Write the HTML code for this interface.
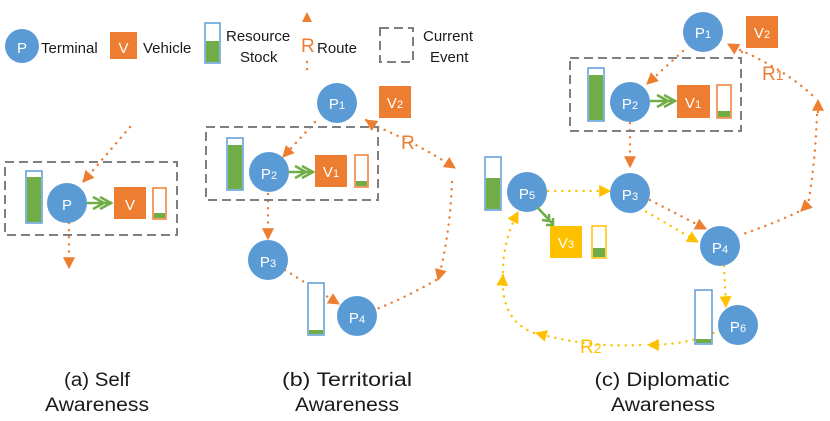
<!DOCTYPE html>
<html><head><meta charset="utf-8"><style>
html,body{margin:0;padding:0;background:#fff;}
svg{display:block;}
text{font-family:"Liberation Sans",sans-serif;}
</style></head><body>
<svg width="830" height="421" viewBox="0 0 830 421" xmlns="http://www.w3.org/2000/svg">
<defs>
<marker id="ao" viewBox="0 0 10 10" refX="9" refY="5" markerWidth="5" markerHeight="5" orient="auto" markerUnits="strokeWidth"><path d="M0,0 L10,5 L0,10 z" fill="#ed7d31"/></marker>
<marker id="ay" viewBox="0 0 10 10" refX="9" refY="5" markerWidth="5" markerHeight="5" orient="auto" markerUnits="strokeWidth"><path d="M0,0 L10,5 L0,10 z" fill="#ffc000"/></marker>
</defs>
<style>
.o{fill:none;stroke:#ed7d31;stroke-width:2.4;stroke-dasharray:0.1 7;stroke-linecap:round;}
.y{fill:none;stroke:#ffc000;stroke-width:2.4;stroke-dasharray:0.1 7;stroke-linecap:round;}
.dash{fill:none;stroke:#7f7f7f;stroke-width:2;stroke-dasharray:9 5;}
.c{fill:#5b9bd5;}
.ct{fill:#fff;font-size:15px;text-anchor:middle;}
.g{fill:none;stroke:#70ad47;stroke-width:2.5;}
.lab{font-size:15px;fill:#1a1a1a;}
.cap{font-size:19px;fill:#1a1a1a;text-anchor:middle;}
</style>

<!-- Legend -->
<circle class="c" cx="22" cy="46" r="17"/><text x="22" y="53" class="ct" font-size="20">P</text>
<text x="41" y="53" class="lab" font-size="16">Terminal</text>
<rect x="110" y="32" width="27" height="27" fill="#ed7d31"/><text x="123.5" y="53" class="ct" font-size="19">V</text>
<text x="143" y="53" class="lab" font-size="16">Vehicle</text>
<rect x="205" y="23" width="15" height="40" fill="#fff" stroke="#5b9bd5" stroke-width="1.5"/><rect x="206" y="41" width="13" height="21" fill="#70ad47"/>
<text x="226" y="41" class="lab">Resource</text><text x="240" y="62" class="lab">Stock</text>
<path d="M307,12 L302,22 L312,22 z" fill="#ed7d31"/>
<line x1="307" y1="62" x2="307" y2="73" class="o"/>
<text x="301" y="52" font-size="19" fill="#ed7d31">R</text>
<text x="317" y="53" class="lab" font-size="16">Route</text>
<rect x="380" y="28" width="33" height="34" class="dash" stroke-dasharray="8 5"/>
<text x="423" y="41" class="lab">Current</text><text x="430" y="62" class="lab">Event</text>

<!-- Panel a -->
<line x1="130" y1="127" x2="83" y2="182" class="o" marker-end="url(#ao)"/>
<line x1="69" y1="223" x2="69" y2="268" class="o" marker-end="url(#ao)"/>
<rect x="5" y="162" width="172" height="73" class="dash"/>
<rect x="26" y="171" width="16" height="52" fill="#fff" stroke="#5b9bd5" stroke-width="1.5"/><rect x="27" y="177" width="14" height="45" fill="#70ad47"/>
<circle class="c" cx="67" cy="203" r="20"/><text x="67" y="210" class="ct" font-size="20">P</text>
<path d="M87,203 H112 M100,197 L111,203 L100,209 M93,197 L104,203 L93,209" class="g"/>
<rect x="114" y="187" width="32" height="32" fill="#ed7d31"/><text x="130" y="210" class="ct" font-size="19">V</text>
<rect x="153" y="188" width="13" height="31" fill="#fff" stroke="#ed7d31" stroke-width="1.5"/><rect x="154" y="213" width="11" height="5" fill="#70ad47"/>

<!-- Panel b -->
<line x1="315" y1="122" x2="283" y2="157" class="o" marker-end="url(#ao)"/>
<line x1="378" y1="128" x2="366" y2="120" class="o" marker-end="url(#ao)"/>
<path d="M378,127 Q420,145 455,168" class="o" marker-end="url(#ao)"/>
<path d="M452,182 Q450,235 438,280" class="o" marker-end="url(#ao)"/>
<path d="M436,280 Q405,298 374,310" class="o"/>
<text x="401" y="149" font-size="19" fill="#ed7d31">R</text>
<line x1="268" y1="194" x2="268" y2="239" class="o" marker-end="url(#ao)"/>
<line x1="285" y1="270" x2="339" y2="304" class="o" marker-end="url(#ao)"/>
<rect x="206" y="127" width="172" height="73" class="dash"/>
<circle class="c" cx="337" cy="103" r="20"/><text x="337" y="109" class="ct">P<tspan font-size="11">1</tspan></text>
<rect x="379" y="86" width="32" height="32" fill="#ed7d31"/><text x="395" y="108" class="ct">V<tspan font-size="11">2</tspan></text>
<rect x="227" y="138" width="16" height="52" fill="#fff" stroke="#5b9bd5" stroke-width="1.5"/><rect x="228" y="145" width="14" height="44" fill="#70ad47"/>
<circle class="c" cx="269" cy="172" r="20"/><text x="269" y="179" class="ct">P<tspan font-size="11">2</tspan></text>
<path d="M289,172 H314 M302,166 L313,172 L302,178 M295,166 L306,172 L295,178" class="g"/>
<rect x="315" y="155" width="32" height="32" fill="#ed7d31"/><text x="331" y="177" class="ct">V<tspan font-size="11">1</tspan></text>
<rect x="355" y="155" width="13" height="32" fill="#fff" stroke="#ed7d31" stroke-width="1.5"/><rect x="356" y="181" width="11" height="5" fill="#70ad47"/>
<circle class="c" cx="268" cy="260" r="20"/><text x="268" y="267" class="ct">P<tspan font-size="11">3</tspan></text>
<rect x="308" y="283" width="16" height="52" fill="#fff" stroke="#5b9bd5" stroke-width="1.5"/><rect x="309" y="330" width="14" height="4" fill="#70ad47"/>
<circle class="c" cx="357" cy="316" r="20"/><text x="357" y="323" class="ct">P<tspan font-size="11">4</tspan></text>

<!-- Panel c -->
<line x1="683" y1="51" x2="647" y2="84" class="o" marker-end="url(#ao)"/>
<line x1="742" y1="52" x2="728" y2="44" class="o" marker-end="url(#ao)"/>
<path d="M740,50 Q785,70 812,95" class="o"/>
<path d="M818,112 L818,100" class="o" marker-end="url(#ao)"/>
<path d="M817,115 Q815,165 808,205" class="o"/>
<path d="M807,205 L801,211" class="o" marker-end="url(#ao)"/>
<path d="M798,212 Q770,225 740,235" class="o"/>
<text x="762" y="80" font-size="19" fill="#ed7d31">R<tspan font-size="14">1</tspan></text>
<line x1="630" y1="123" x2="630" y2="167" class="o" marker-end="url(#ao)"/>
<line x1="650" y1="200" x2="706" y2="229" class="o" marker-end="url(#ao)"/>
<line x1="640" y1="208" x2="698" y2="242" class="y" marker-end="url(#ay)"/>
<line x1="548" y1="191" x2="610" y2="191" class="y" marker-end="url(#ay)"/>
<line x1="724" y1="266" x2="726" y2="307" class="y" marker-end="url(#ay)"/>
<path d="M720,330 Q690,345 648,345" class="y" marker-end="url(#ay)"/>
<path d="M640,345 Q590,348 536,333" class="y" marker-end="url(#ay)"/>
<path d="M534,333 Q500,320 503,275" class="y" marker-end="url(#ay)"/>
<path d="M503,272 Q503,240 518,212" class="y" marker-end="url(#ay)"/>
<text x="580" y="353" font-size="19" fill="#ffc000">R<tspan font-size="14">2</tspan></text>
<rect x="570" y="58" width="171" height="73" class="dash"/>
<circle class="c" cx="703" cy="32" r="20"/><text x="703" y="38" class="ct">P<tspan font-size="11">1</tspan></text>
<rect x="746" y="16" width="32" height="32" fill="#ed7d31"/><text x="762" y="38" class="ct">V<tspan font-size="11">2</tspan></text>
<rect x="588" y="68" width="16" height="53" fill="#fff" stroke="#5b9bd5" stroke-width="1.5"/><rect x="589" y="75" width="14" height="45" fill="#70ad47"/>
<circle class="c" cx="630" cy="102" r="20"/><text x="630" y="109" class="ct">P<tspan font-size="11">2</tspan></text>
<path d="M650,101 H676 M664,95 L675,101 L664,107 M657,95 L668,101 L657,107" class="g"/>
<rect x="677" y="85" width="33" height="33" fill="#ed7d31"/><text x="693" y="108" class="ct">V<tspan font-size="11">1</tspan></text>
<rect x="717" y="85" width="14" height="33" fill="#fff" stroke="#ed7d31" stroke-width="1.5"/><rect x="718" y="111" width="12" height="6" fill="#70ad47"/>
<circle class="c" cx="630" cy="193" r="20"/><text x="630" y="200" class="ct">P<tspan font-size="11">3</tspan></text>
<rect x="485" y="157" width="16" height="53" fill="#fff" stroke="#5b9bd5" stroke-width="1.5"/><rect x="486" y="178" width="14" height="31" fill="#70ad47"/>
<circle class="c" cx="527" cy="192" r="20"/><text x="527" y="199" class="ct">P<tspan font-size="11">5</tspan></text>
<path d="M537,207 L553,224 M546,225 L553,225 L553,218 M542,220 L549,221 L549,214" class="g"/>
<rect x="550" y="226" width="32" height="32" fill="#ffc000"/><text x="566" y="248" class="ct">V<tspan font-size="11">3</tspan></text>
<rect x="592" y="226" width="14" height="32" fill="#fff" stroke="#ffc000" stroke-width="1.5"/><rect x="593" y="248" width="12" height="9" fill="#70ad47"/>
<circle class="c" cx="720" cy="246" r="20"/><text x="720" y="253" class="ct">P<tspan font-size="11">4</tspan></text>
<rect x="695" y="290" width="17" height="54" fill="#fff" stroke="#5b9bd5" stroke-width="1.5"/><rect x="696" y="339" width="15" height="4" fill="#70ad47"/>
<circle class="c" cx="738" cy="325" r="20"/><text x="738" y="332" class="ct">P<tspan font-size="11">6</tspan></text>

<!-- Captions -->
<text x="97" y="386" class="cap" textLength="66" lengthAdjust="spacingAndGlyphs">(a) Self</text>
<text x="97" y="411" class="cap" textLength="104" lengthAdjust="spacingAndGlyphs">Awareness</text>
<text x="347" y="386" class="cap" textLength="130" lengthAdjust="spacingAndGlyphs">(b) Territorial</text>
<text x="347" y="411" class="cap" textLength="104" lengthAdjust="spacingAndGlyphs">Awareness</text>
<text x="662" y="386" class="cap" textLength="135" lengthAdjust="spacingAndGlyphs">(c) Diplomatic</text>
<text x="663" y="411" class="cap" textLength="104" lengthAdjust="spacingAndGlyphs">Awareness</text>
</svg>
</body></html>
